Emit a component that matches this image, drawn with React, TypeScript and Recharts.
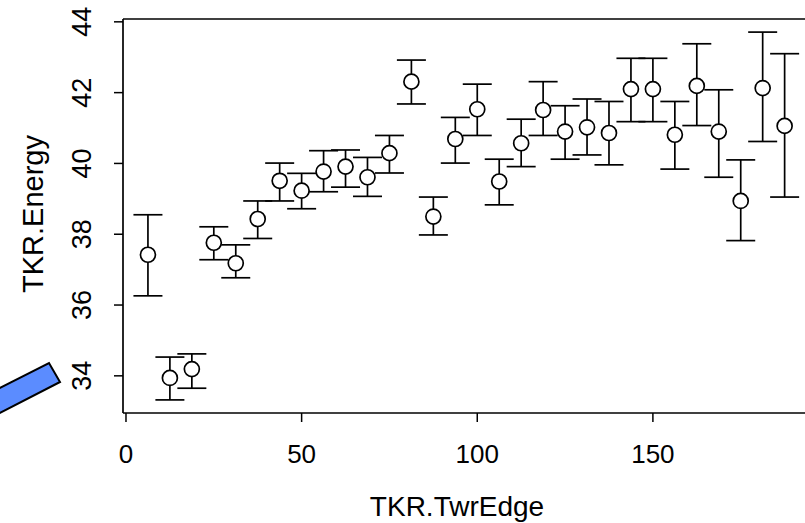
import React from 'react';
import { ScatterChart, Scatter, XAxis, YAxis, ErrorBar, ReferenceLine } from 'recharts';

const twrEdge = [6.25, 12.5, 18.75, 25, 31.25, 37.5, 43.75, 50, 56.25, 62.5, 68.75, 75, 81.25, 87.5, 93.75, 100, 106.25, 112.5, 118.75, 125, 131.25, 137.5, 143.75, 150, 156.25, 162.5, 168.75, 175, 181.25, 187.5];
const energy = [37.42, 33.94, 34.19, 37.76, 37.18, 38.43, 39.51, 39.23, 39.77, 39.91, 39.61, 40.29, 42.31, 38.5, 40.69, 41.53, 39.49, 40.57, 41.51, 40.9, 41.02, 40.86, 42.1, 42.1, 40.81, 42.19, 40.9, 38.94, 42.13, 41.06];
const energyHigh = [38.55, 34.53, 34.62, 38.21, 37.7, 38.94, 40.01, 39.72, 40.36, 40.38, 40.17, 40.79, 42.92, 39.05, 41.3, 42.24, 40.12, 41.25, 42.31, 41.63, 41.82, 41.75, 42.97, 42.97, 41.75, 43.38, 42.08, 40.1, 43.71, 43.1];
const energyLow = [36.26, 33.32, 33.65, 37.28, 36.77, 37.88, 38.94, 38.72, 39.2, 39.33, 39.07, 39.73, 41.68, 37.98, 40.01, 40.79, 38.83, 39.91, 40.79, 40.12, 40.24, 39.96, 41.18, 41.18, 39.84, 41.07, 39.61, 37.82, 40.62, 39.05];
const xTicks = [0, 50, 100, 150];
const yTicks = [34, 36, 38, 40, 42, 44];
const X_DOMAIN: [number, number] = [-0.85, 193.3];
const Y_DOMAIN: [number, number] = [32.95, 44.08];

const data = twrEdge.map((x, i) => ({
  x,
  y: energy[i],
  err: [energy[i] - energyLow[i], energyHigh[i] - energy[i]],
}));

const FONT = '"Liberation Sans", Arial, sans-serif';

const XTick = (props: any) => {
  const { x, y, payload } = props;
  return (
    <text x={x} y={y + 41} textAnchor="middle" fontFamily={FONT} fontSize={26} fill="#000">
      {payload.value}
    </text>
  );
};

const YTick = (props: any) => {
  const { x, y, payload } = props;
  const bx = x - 23;
  return (
    <text x={bx} y={y} textAnchor="middle" fontFamily={FONT} fontSize={27} fill="#000" transform={`rotate(-90, ${bx}, ${y})`}>
      {payload.value}
    </text>
  );
};

const Circle = (props: any) => {
  const { cx, cy } = props;
  return <circle cx={cx} cy={cy} r={7.5} fill="#fff" stroke="#000" strokeWidth={1.7} />;
};

export default function App() {
  return (
    <div style={{ position: 'absolute', left: 0, top: 0, width: 805, height: 523, background: '#fff' }}>
      <ScatterChart width={805} height={523} margin={{ top: 19, right: 0, bottom: 0, left: 0 }}>
        <XAxis
          type="number"
          dataKey="x"
          domain={X_DOMAIN}
          allowDataOverflow
          ticks={xTicks}
          tickSize={9}
          tickMargin={0}
          height={110}
          axisLine={{ stroke: '#000', strokeWidth: 1.7 }}
          tickLine={{ stroke: '#000', strokeWidth: 1.5 }}
          tick={<XTick />}
          label={{
            content: () => (
              <text x={457} y={516} textAnchor="middle" fontFamily={FONT} fontSize={28} fill="#000">
                TKR.TwrEdge
              </text>
            ),
          }}
        />
        <YAxis
          type="number"
          dataKey="y"
          domain={Y_DOMAIN}
          allowDataOverflow
          ticks={yTicks}
          tickSize={9}
          tickMargin={0}
          width={123}
          axisLine={{ stroke: '#000', strokeWidth: 1.7 }}
          tickLine={{ stroke: '#000', strokeWidth: 1.5 }}
          tick={<YTick />}
          label={{
            content: () => (
              <text x={43} y={214} textAnchor="middle" fontFamily={FONT} fontSize={29} fill="#000" transform="rotate(-90, 43, 214)">
                TKR.Energy
              </text>
            ),
          }}
        />
        <ReferenceLine y={Y_DOMAIN[1]} stroke="#000" strokeWidth={1.7} />
        <Scatter data={data} isAnimationActive={false} shape={<Circle />}>
          <ErrorBar dataKey="err" direction="y" width={14.5} stroke="#000" strokeWidth={1.7} isAnimationActive={false} />
        </Scatter>
      </ScatterChart>
      <svg width={805} height={523} style={{ position: 'absolute', left: 0, top: 0, pointerEvents: 'none' }}>
        <polygon points="-2,389 49,363 60,382 -2,414" fill="#5b8cff" stroke="#000" strokeWidth={2} />
      </svg>
    </div>
  );
}
